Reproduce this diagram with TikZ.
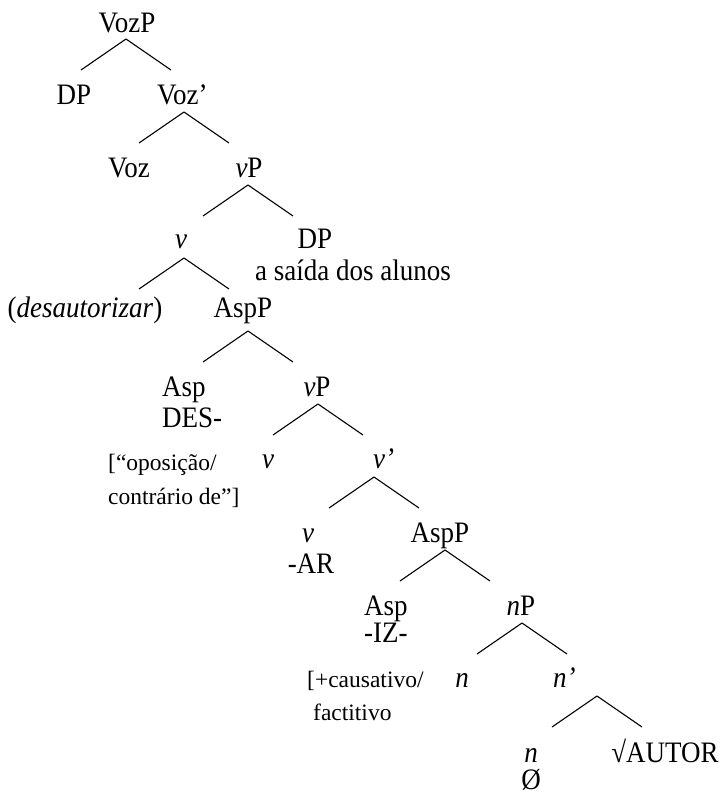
\documentclass[tikz,border=0pt]{standalone}
\usepackage{fontspec}
\setmainfont{Liberation Serif}

% the printed labels are a little taller than the plain font
\newcommand\tall[1]{\scalebox{1}[1.1]{#1}}

\tikzset{
  lbl/.style={anchor=base, inner sep=0pt, font=\fontsize{27}{32}\selectfont},
  lblw/.style={lbl, anchor=base west},
  note/.style={anchor=base west, inner sep=0pt, font=\fontsize{23.5}{34}\selectfont},
  branch/.style={line width=1.1pt},
}

\begin{document}
\begin{tikzpicture}[x=1pt,y=-1pt]
  \useasboundingbox (0,0) rectangle (724,796);

  % ---- labels of the tree ----
  \node[lbl]  (vozp)   at (127,32)  {\tall{VozP}};
  \node[lbl]  (dp1)    at (74,104)  {\tall{DP}};
  \node[lblw] (vozbar) at (157,104) {\tall{Voz’}};
  \node[lbl]  (voz)    at (129,177) {\tall{Voz}};
  \node[lbl]  (vp1)    at (249,177) {\tall{\textit{v}P}};
  \node[lbl]  (v1)     at (181,248) {\tall{\textit{v}}};
  \node[lbl]  (dp2)    at (315,248) {\tall{DP}};
  \node[lbl]  (dp2txt) at (353,280) {\tall{a saída dos alunos}};
  \node[lbl]  (desaut) at (85,317)  {\tall{(\textit{desautorizar})}};
  \node[lbl]  (aspp1)  at (243,317) {\tall{AspP}};
  \node[lblw] (asp1)   at (162,396) {\tall{Asp}};
  \node[lblw] (des)    at (162,427) {\tall{DES-}};
  \node[note] (opos1)  at (108,470) {[“oposição/};
  \node[note] (opos2)  at (108,504) {contrário de”]};
  \node[lbl]  (vp2)    at (317,396) {\tall{\textit{v}P}};
  \node[lbl]  (v2)     at (268,468) {\tall{\textit{v}}};
  \node[lblw] (vbar)   at (373,468) {\tall{\textit{v’}}};
  \node[lbl]  (v3)     at (308,542) {\tall{\textit{v}}};
  \node[lbl]  (ar)     at (311,573) {\tall{-AR}};
  \node[lbl]  (aspp2)  at (440,542) {\tall{AspP}};
  \node[lblw] (asp2)   at (364,615) {\tall{Asp}};
  \node[lblw] (iz)     at (364,642) {\tall{-IZ-}};
  \node[note] (caus1)  at (307,687) {[+causativo/};
  \node[note] (caus2)  at (313,720) {factitivo};
  \node[lbl]  (np)     at (521,615) {\tall{\textit{n}P}};
  \node[lbl]  (n1)     at (462,687) {\tall{\textit{n}}};
  \node[lblw] (nbar)   at (553,687) {\tall{\textit{n’}}};
  \node[lbl]  (n2)     at (531,762) {\tall{\textit{n}}};
  \node[lbl]  (null)   at (531,789) {\tall{Ø}};
  \node[lbl]  (root)   at (665,762) {\tall{√AUTOR}};

  % ---- branching points under each phrase ----
  \coordinate (bVozP)  at (126,39);
  \coordinate (bVozb)  at (184,112);
  \coordinate (bvP1)   at (248,185);
  \coordinate (bv1)    at (184,258);
  \coordinate (bAspP1) at (248,331);
  \coordinate (bvP2)   at (318,404);
  \coordinate (bvb)    at (374,477);
  \coordinate (bAspP2) at (445,550);
  \coordinate (bnP)    at (522,623);
  \coordinate (bnb)    at (597,696);

  % ---- branches ----
  \foreach \b in {bVozP,bVozb,bvP1,bv1,bAspP1,bvP2,bvb,bAspP2,bnP,bnb}{
    \draw[branch] (\b) -- ++(-45,31);
    \draw[branch] (\b) -- ++(45,31);
  }
\end{tikzpicture}
\end{document}
